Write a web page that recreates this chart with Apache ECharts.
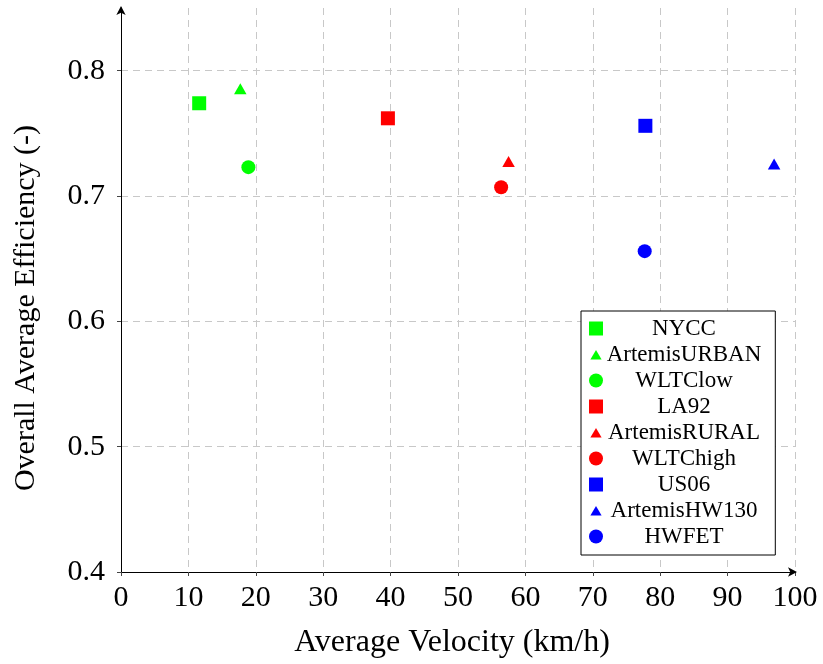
<!DOCTYPE html>
<html>
<head>
<meta charset="utf-8">
<script src="https://cdn.jsdelivr.net/npm/echarts@6/dist/echarts.min.js"></script>
<style>
html,body{margin:0;padding:0;background:#fff;}
#chart{width:823px;height:664px;}
</style>
</head>
<body>
<div id="chart"></div>
<script>
// ---- data ----
const seriesNames = ['NYCC','ArtemisURBAN','WLTClow','LA92','ArtemisRURAL','WLTChigh','US06','ArtemisHW130','HWFET'];
const velocity   = [11.6, 17.7, 18.9, 39.6, 57.5, 56.4, 77.8, 96.9, 77.7];
const efficiency = [0.774, 0.784, 0.723, 0.762, 0.726, 0.707, 0.756, 0.724, 0.656];
const markerKind = ['square','triangle','circle','square','triangle','circle','square','triangle','circle'];
const colors     = ['#00ff00','#00ff00','#00ff00','#ff0000','#ff0000','#ff0000','#0000ff','#0000ff','#0000ff'];
const xTicks = [0,10,20,30,40,50,60,70,80,90,100];
const yTicks = [0.4,0.5,0.6,0.7,0.8];

const FONT = '"Liberation Serif", "DejaVu Serif", serif';
const gridColor = '#c8c8c8';

const symbolOf = {square:'rect', triangle:'triangle', circle:'circle'};
const sizeOf = {square:14, triangle:[12.5,11], circle:14};
const offsetOf = {square:[0,0], triangle:[0,-2], circle:[0,0]};
const legendIconOf = {
  square: 'rect',
  circle: 'circle',
  triangle: 'path://M0 0L0 0M14 14L14 14M7 2.5L12.6 12L1.4 12Z'
};

const series = seriesNames.map((n, i) => ({
  name: n,
  type: 'scatter',
  data: [[velocity[i], efficiency[i]]],
  symbol: symbolOf[markerKind[i]],
  symbolSize: sizeOf[markerKind[i]],
  symbolOffset: offsetOf[markerKind[i]],
  itemStyle: {color: colors[i], opacity: 1, borderWidth: 0},
  emphasis: {disabled: true},
  z: 5
}));

const chart = echarts.init(document.getElementById('chart'), null, {renderer: 'canvas'});
chart.setOption({
  animation: false,
  backgroundColor: '#ffffff',
  grid: {left: 121, right: 28, top: 8, bottom: 91, containLabel: false},
  xAxis: {
    type: 'value',
    min: xTicks[0], max: xTicks[xTicks.length - 1], interval: 10,
    name: 'Average Velocity (km/h)',
    nameLocation: 'middle',
    nameGap: 55,
    nameTextStyle: {fontFamily: FONT, fontSize: 32, color: '#000', padding: [0, 12, 0, 0]},
    axisLine: {show: true, onZero: false, lineStyle: {color: '#000', width: 1}, symbol: ['none', 'arrow'], symbolSize: [7, 9], symbolOffset: [0, 2]},
    axisTick: {show: true, inside: false, length: 4, lineStyle: {color: '#444'}},
    axisLabel: {fontFamily: FONT, fontSize: 30, color: '#000', margin: 11},
    splitLine: {show: true, showMinLine: false, lineStyle: {color: gridColor, type: [7, 5], width: 1}}
  },
  yAxis: {
    type: 'value',
    min: yTicks[0], max: 0.85, interval: 0.1,
    name: 'Overall Average Efficiency (-)',
    nameLocation: 'middle',
    nameGap: 80,
    nameTextStyle: {fontFamily: FONT, fontSize: 30, color: '#000', padding: [0, 36, 0, 0]},
    axisLine: {show: true, onZero: false, lineStyle: {color: '#000', width: 1}, symbol: ['none', 'arrow'], symbolSize: [7, 9], symbolOffset: [0, 2]},
    axisTick: {show: true, inside: false, length: 4, lineStyle: {color: '#444'}},
    axisLabel: {
      fontFamily: FONT, fontSize: 30, color: '#000', margin: 16, showMaxLabel: false,
      formatter: v => (yTicks.some(t => Math.abs(t - v) < 1e-9) ? v.toFixed(1) : '')
    },
    splitLine: {show: true, showMinLine: false, showMaxLine: false, lineStyle: {color: gridColor, type: [7, 5], width: 1}}
  },
  legend: {
    orient: 'vertical',
    left: 581, top: 311,
    padding: [6, 14, 7, 8],
    itemGap: 3,
    itemWidth: 14, itemHeight: 14,
    borderColor: '#000', borderWidth: 1, borderRadius: 0,
    backgroundColor: '#ffffff',
    selectedMode: false,
    itemStyle: {borderWidth: 0},
    data: seriesNames.map((n, i) => ({name: n, icon: legendIconOf[markerKind[i]]})),
    formatter: name => '{c|' + name + '}',
    textStyle: {
      fontFamily: FONT, fontSize: 23, color: '#000',
      rich: {c: {width: 152, align: 'center', fontFamily: FONT, fontSize: 23, color: '#000'}}
    }
  },
  series: series
});
</script>
</body>
</html>
